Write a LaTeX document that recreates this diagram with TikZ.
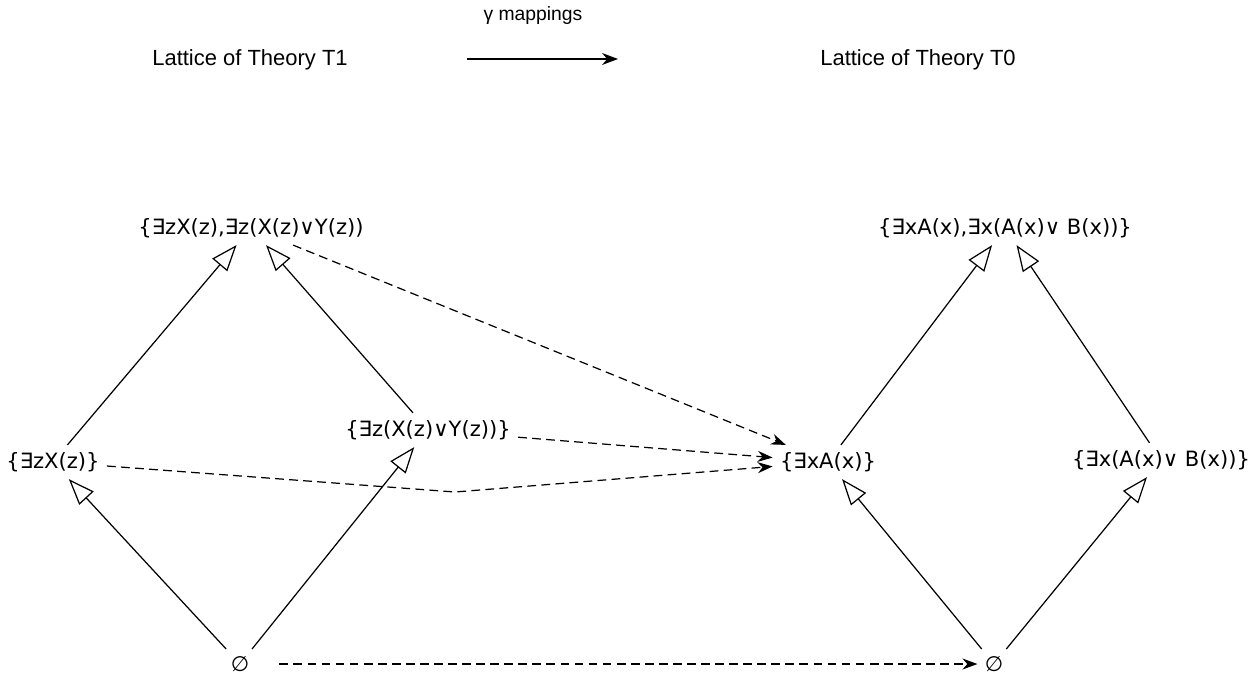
\documentclass[tikz,border=0pt]{standalone}
\usepackage{fontspec}
\setmainfont{Liberation Sans}
\newfontfamily\formfont{DejaVu Sans}
\usetikzlibrary{arrows.meta}

\begin{document}
\begin{tikzpicture}[
  x=0.02cm, y=-0.02cm,
  every node/.style={font=\fontsize{12.5}{15}\selectfont},
  formula/.style={font=\formfont\fontsize{12}{14}\selectfont, inner sep=4pt},
  order/.style={-{Triangle[open, length=5.2mm, width=3.9mm]}, line width=0.7pt},
  gmap/.style={-{Stealth[length=3mm, width=2.2mm]}, dashed, dash pattern=on 5pt off 3pt, line width=0.7pt}
]
\useasboundingbox (0,0) rectangle (1256,676);

% titles
\node (t1) at (250,60) {Lattice of Theory T1};
\node (t0) at (918,60) {Lattice of Theory T0};
\node[font=\fontsize{11}{13}\selectfont] (glabel) at (533,16) {γ mappings};
\coordinate (gs) at (467,59);
\coordinate (ge) at (618,59);
\draw[-{Stealth[length=3.2mm, width=2.4mm]}, line width=0.7pt] (gs) -- (ge);

% lattice of T1
\node[formula] (top1) at (251,228) {\{∃zX(z),∃z(X(z)∨Y(z))};
\node[formula] (x1) at (53,462) {\{∃zX(z)\}};
\node[formula] (xy1) at (428,430) {\{∃z(X(z)∨Y(z))\}};
\node[formula] (bot1) at (240,664) {∅};

% lattice of T0
\node[formula] (top0) at (1005,228) {\{∃xA(x),∃x(A(x)∨ B(x))\}};
\node[formula] (a0) at (828,462) {\{∃xA(x)\}};
\node[formula] (ab0) at (1161,460) {\{∃x(A(x)∨ B(x))\}};
\node[formula] (bot0) at (994,664) {∅};

\draw[order] (x1) -- (top1);
\draw[order] (xy1) -- (top1);
\draw[order] (bot1) -- (x1);
\draw[order] (bot1) -- (xy1);
\draw[order] (a0) -- (top0);
\draw[order] (ab0) -- (top0);
\draw[order] (bot0) -- (a0);
\draw[order] (bot0) -- (ab0);

% gamma mappings
\coordinate (bend) at (455,492);
\draw[gmap] (top1) -- (a0);
\draw[gmap] (xy1) -- (a0);
\draw[gmap] (x1) -- (bend) -- (a0);
\draw[gmap, shorten <=13pt] (bot1) -- (bot0);
\end{tikzpicture}
\end{document}
